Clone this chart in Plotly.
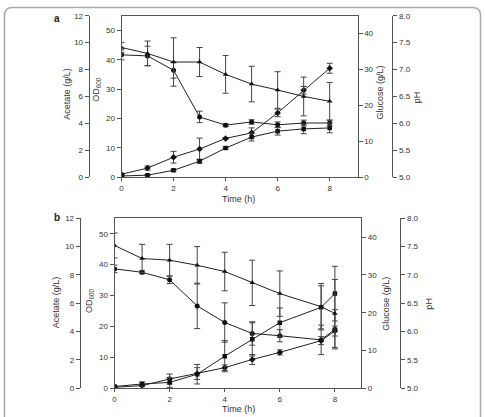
import plotly.graph_objects as go

W, H = 485, 417

# ---------------- data ----------------
time_a = [0, 1, 2, 3, 4, 5, 6, 7, 8]
ph_a = [7.41, 7.30, 7.14, 7.14, 6.91, 6.73, 6.62, 6.50, 6.41]
ph_a_err = [0.09, 0.23, 0.45, 0.27, 0.35, 0.33, 0.34, 0.36, 0.35]
glucose_a = [34.1, 33.8, 29.8, 16.8, 14.5, 15.4, 14.6, 15.1, 15.1]
glucose_a_err = [1.4, 2.7, 2.2, 1.6, 0.4, 0.6, 0.8, 0.8, 0.8]
od_a = [1.0, 3.1, 6.8, 9.6, 13.2, 15.1, 21.9, 29.6, 37.1]
od_a_err = [0.3, 0.7, 2.0, 3.7, 0.3, 1.7, 1.3, 1.3, 1.7]
acetate_a = [0.09, 0.15, 0.51, 1.19, 2.16, 2.98, 3.42, 3.59, 3.66]
acetate_a_err = [0.04, 0.04, 0.07, 0.15, 0.07, 0.29, 0.29, 0.36, 0.36]

time_b = [0, 1, 2, 3, 4, 5, 6, 7.5, 8]
ph_b = [7.52, 7.29, 7.26, 7.17, 7.06, 6.86, 6.67, 6.44, 6.32]
ph_b_err = [0.22, 0.25, 0.28, 0.33, 0.34, 0.40, 0.40, 0.41, 0.60]
glucose_b = [31.6, 30.7, 28.7, 21.8, 17.4, 14.5, 13.9, 12.8, 15.6]
glucose_b_err = [1.0, 0.4, 1.0, 6.0, 5.2, 3.1, 1.6, 3.9, 5.2]
od_b = [0.3, 0.85, 2.98, 4.75, 6.65, 9.3, 11.6, 15.4, 18.5]
od_b_err = [0.3, 0.3, 1.6, 1.9, 0.9, 1.6, 0.8, 1.3, 1.6]
acetate_b = [0.12, 0.30, 0.41, 0.99, 2.26, 3.45, 4.63, 5.71, 6.68]
acetate_b_err = [0.07, 0.14, 0.35, 0.69, 1.10, 1.17, 1.04, 1.52, 1.93]

x_ticks = [0, 2, 4, 6, 8]
acetate_ticks = [0, 2, 4, 6, 8, 10, 12]
od_ticks = [0, 10, 20, 30, 40, 50]
glucose_ticks = [0, 10, 20, 30, 40]
ph_ticks = [5.0, 5.5, 6.0, 6.5, 7.0, 7.5, 8.0]

# ---------------- styling ----------------
FONT = "Liberation Sans, Arial, sans-serif"
INK = "#333333"
AX = "#555555"
TICKFONT = dict(family=FONT, size=8, color=INK)

def px(x):
    return x / W

def py(y):
    return 1 - y / H

def axis_common(**kw):
    d = dict(showgrid=False, zeroline=False, showline=True, linecolor=AX, linewidth=1,
             ticks="outside", ticklen=4, tickwidth=1, tickcolor=AX, tickfont=TICKFONT,
             fixedrange=True)
    d.update(kw)
    return d

fig = go.Figure()

panels = [
    dict(t=time_a, ph=ph_a, phe=ph_a_err, glc=glucose_a, glce=glucose_a_err,
         od=od_a, ode=od_a_err, ac=acetate_a, ace=acetate_a_err,
         xa="x", ya=["y", "y2", "y3", "y4"]),
    dict(t=time_b, ph=ph_b, phe=ph_b_err, glc=glucose_b, glce=glucose_b_err,
         od=od_b, ode=od_b_err, ac=acetate_b, ace=acetate_b_err,
         xa="x2", ya=["y5", "y6", "y7", "y8"]),
]

def add_series(t, vals, errs, xa, ya, symbol, name, size=5):
    fig.add_trace(go.Scatter(
        x=t, y=vals, xaxis=xa, yaxis=ya, mode="lines+markers", name=name,
        line=dict(color="#222222", width=1),
        marker=dict(symbol=symbol, size=size, color="#111111"),
        error_y=dict(type="data", array=errs, visible=True, thickness=1, width=3, color="#444444"),
        showlegend=False))

for p in panels:
    yod, yglc, yac, yph = p["ya"]
    add_series(p["t"], p["ph"], p["phe"], p["xa"], yph, "triangle-up", "pH")
    add_series(p["t"], p["glc"], p["glce"], p["xa"], yglc, "circle", "Glucose")
    add_series(p["t"], p["od"], p["ode"], p["xa"], yod, "diamond", "OD600", 5)
    add_series(p["t"], p["ac"], p["ace"], p["xa"], yac, "square", "Acetate", 4.5)

# panel geometry (pixels)
geo = [
    dict(left=120, right=357, top=12, bottom=177, xmax=9.07, ac_pos=87, ph_pos=392),
    dict(left=113, right=360.7, top=219, bottom=392.7, xmax=8.955, ac_pos=78, ph_pos=400),
]

layout = dict(width=W, height=H, margin=dict(l=0, r=0, t=0, b=0), autosize=False,
              paper_bgcolor="white", plot_bgcolor="white", showlegend=False)

names = [("xaxis", "yaxis", "yaxis2", "yaxis3", "yaxis4", "x", "y"),
         ("xaxis2", "yaxis5", "yaxis6", "yaxis7", "yaxis8", "x2", "y5")]

for g, n in zip(geo, names):
    xk, yod, yglc, yac, yph, xref, yref = n
    dom_x = [px(g["left"]), px(g["right"])]
    dom_y = [py(g["bottom"]), py(g["top"])]
    layout[xk] = axis_common(domain=dom_x, range=[0, g["xmax"]], tickvals=x_ticks,
                             mirror=True, anchor=yref, ticklen=3)
    layout[yod] = axis_common(domain=dom_y, range=[0, 55], tickvals=od_ticks, anchor=xref)
    layout[yglc] = axis_common(domain=dom_y, range=[0, 45], tickvals=glucose_ticks,
                               overlaying=yref, side="right", anchor=xref)
    layout[yac] = axis_common(domain=dom_y, range=[0, 12], tickvals=acetate_ticks,
                              overlaying=yref, side="left", anchor="free",
                              position=px(g["ac_pos"]))
    layout[yph] = axis_common(domain=dom_y, range=[5, 8], tickvals=ph_ticks, tickformat=".1f",
                              overlaying=yref, side="right", anchor="free",
                              position=px(g["ph_pos"]))

fig.update_layout(**layout)

# ---------------- titles ----------------
TF = dict(family=FONT, size=9, color=INK)
titles = [
    ("Acetate (g/L)", 65, 92, -90), ("OD<sub>600</sub>", 95, 87, -90),
    ("Glucose (g/L)", 380, 90, -90), ("pH", 417, 95, -90), ("Time (h)", 237, 199, 0),
    ("Acetate (g/L)", 55, 305, -90), ("OD<sub>600</sub>", 88, 303, -90),
    ("Glucose (g/L)", 386, 306, -90), ("pH", 429, 306, -90), ("Time (h)", 237, 413.5, 0),
]
for text, x, y, ang in titles:
    fig.add_annotation(text=text, x=px(x), y=py(y), xref="paper", yref="paper",
                       showarrow=False, textangle=ang, font=TF,
                       xanchor="center", yanchor="middle")

for text, y in [("a", 15), ("b", 218)]:
    fig.add_annotation(text="<b>%s</b>" % text, x=px(55), y=py(y), xref="paper", yref="paper",
                       showarrow=False, font=dict(family=FONT, size=10, color="#222"),
                       xanchor="center", yanchor="middle")

# outer frame with rounded top corners
L, R, T, B = 2.5, 480.5, 3.5, 430
r = 8
path = ("M %f,%f L %f,%f Q %f,%f %f,%f L %f,%f Q %f,%f %f,%f L %f,%f" % (
    px(L), py(B), px(L), py(T + r), px(L), py(T), px(L + r), py(T),
    px(R - r), py(T), px(R), py(T), px(R), py(T + r), px(R), py(B)))
fig.add_shape(type="path", path=path, xref="paper", yref="paper",
              line=dict(color="#aaaaaa", width=1.5), layer="below")

fig.write_html("out.html")
